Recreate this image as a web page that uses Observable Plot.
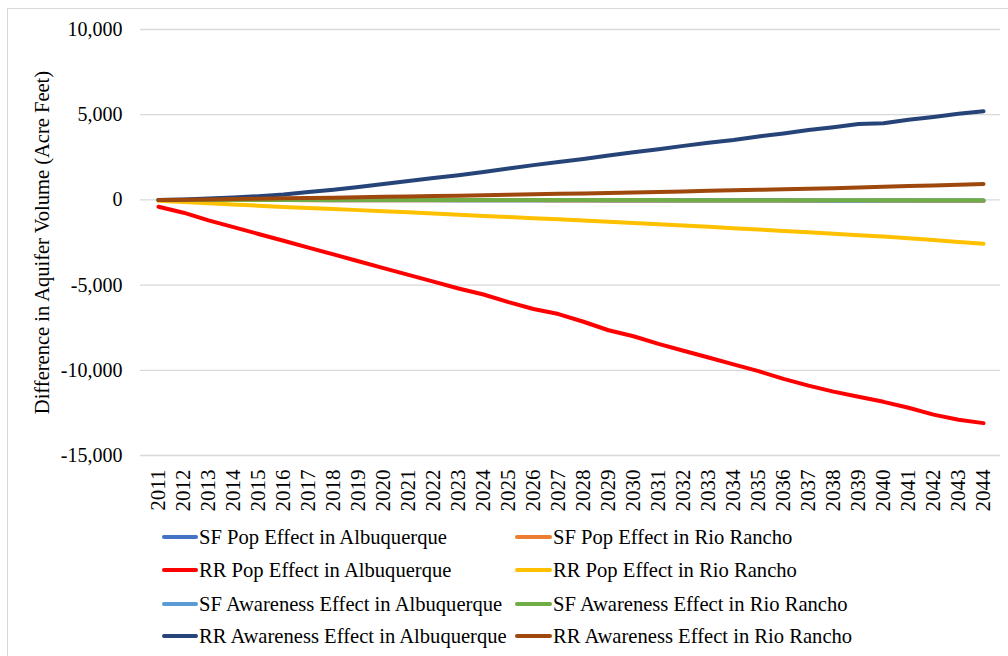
<!DOCTYPE html>
<html><head><meta charset="utf-8">
<script src="https://cdn.jsdelivr.net/npm/d3@7"></script>
<script src="https://cdn.jsdelivr.net/npm/@observablehq/plot@0.6"></script>
<style>
body{margin:0;background:#fff;}
#wrap{position:relative;width:1008px;height:656px;overflow:hidden;font-family:"Liberation Serif","Times New Roman",serif;background:#fff;}
#frame{position:absolute;left:7px;top:8px;width:1100px;height:700px;border:1px solid #d9d9d9;box-sizing:border-box;pointer-events:none;}
.leg{position:absolute;height:30px;display:flex;align-items:center;white-space:nowrap;}
.sw{display:inline-block;height:4.5px;border-radius:2px;margin-right:1px;}
.lt{display:inline-block;font-size:20.6px;color:#000;}
</style>
</head><body>
<div id="wrap"><div id="frame"></div></div>
<script>
const years = ["2011","2012","2013","2014","2015","2016","2017","2018","2019","2020","2021","2022","2023","2024","2025","2026","2027","2028","2029","2030","2031","2032","2033","2034","2035","2036","2037","2038","2039","2040","2041","2042","2043","2044"];
const seriesNames = ["SF Pop Effect in Albuquerque","SF Pop Effect in Rio Rancho","RR Pop Effect in Albuquerque","RR Pop Effect in Rio Rancho","SF Awareness Effect in Albuquerque","SF Awareness Effect in Rio Rancho","RR Awareness Effect in Albuquerque","RR Awareness Effect in Rio Rancho"];
const seriesColors = ["#4472C4","#ED7D31","#FF0000","#FFC000","#5B9BD5","#70AD47","#264478","#9E480E"];
const yTicks = [-15000,-10000,-5000,0,5000,10000];
const yTitle = "Difference in Aquifer Volume (Acre Feet)";

const sfPopAlb = [0,0,-5,-5,-10,-10,-10,-15,-15,-15,-20,-20,-20,-20,-25,-25,-25,-25,-30,-30,-30,-30,-30,-35,-35,-35,-35,-35,-40,-40,-40,-40,-40,-45];
const sfPopRR = [0,-5,-5,-10,-10,-10,-15,-15,-15,-20,-20,-20,-25,-25,-25,-25,-30,-30,-30,-30,-35,-35,-35,-40,-40,-40,-45,-45,-50,-50,-55,-60,-60,-65];
const rrPopAlb = [-400,-750,-1200,-1600,-2000,-2400,-2800,-3200,-3600,-4000,-4400,-4800,-5200,-5550,-6000,-6400,-6700,-7150,-7650,-8000,-8450,-8850,-9250,-9650,-10050,-10500,-10900,-11250,-11550,-11850,-12200,-12600,-12900,-13100];
const rrPopRR = [-50,-130,-200,-270,-340,-410,-480,-540,-600,-670,-730,-800,-870,-940,-1000,-1070,-1140,-1210,-1280,-1350,-1430,-1500,-1580,-1660,-1740,-1820,-1900,-1980,-2070,-2150,-2250,-2350,-2470,-2580];
const sfAwAlb = [0,0,0,-5,-5,-5,-5,-10,-10,-10,-10,-10,-15,-15,-15,-15,-15,-20,-20,-20,-20,-20,-25,-25,-25,-25,-30,-45,-50,-40,-30,-30,-35,-35];
const sfAwRR = [0,0,0,0,0,0,-5,-5,-5,-5,-5,-5,-5,-10,-10,-10,-10,-10,-10,-10,-10,-15,-15,-15,-15,-15,-15,-15,-20,-20,-20,-20,-20,-20];
const rrAwAlb = [0,30,80,140,220,320,460,600,760,930,1110,1280,1450,1640,1840,2040,2230,2400,2600,2790,2970,3170,3360,3520,3720,3900,4100,4260,4450,4500,4700,4870,5050,5200];
const rrAwRR = [0,10,30,50,70,90,110,130,160,180,200,230,250,280,300,330,360,380,410,440,470,500,530,560,590,620,660,690,730,770,810,850,890,940];

const allValues = [sfPopAlb,sfPopRR,rrPopAlb,rrPopRR,sfAwAlb,sfAwRR,rrAwAlb,rrAwRR];
const data = seriesNames.flatMap((s,i)=>allValues[i].map((v,j)=>({series:s, year:years[j], value:v})));

const chart = Plot.plot({
  width:1008, height:656,
  marginLeft:140, marginRight:8, marginTop:29, marginBottom:201,
  style:{fontFamily:'"Liberation Serif","Times New Roman",serif', fontSize:"20px", color:"#000", background:"transparent"},
  x:{type:"point", domain:years, padding:0.5, label:null},
  y:{domain:[-15000,10000], label:null},
  color:{domain:seriesNames, range:seriesColors},
  marks:[
    Plot.ruleY(yTicks,{stroke:"#d9d9d9", strokeWidth:1.3}),
    Plot.axisY(yTicks,{tickSize:0, tickPadding:18, tickFormat:d=>d.toLocaleString("en-US"), label:null, fontSize:20}),
    Plot.axisX({tickSize:0, tickRotate:-90, tickPadding:14, label:null, fontSize:21}),
    Plot.line(data,{x:"year", y:"value", z:"series", stroke:"series", strokeWidth:4, strokeLinejoin:"round", strokeLinecap:"round"}),
    Plot.text([yTitle],{frameAnchor:"left", textAnchor:"middle", rotate:-90, dx:-98, fontSize:20.5, fill:"#000"})
  ]
});
const wrap = document.getElementById("wrap");
chart.style.position = "absolute";
chart.style.left = "0px";
chart.style.top = "0px";
wrap.appendChild(chart);

const rowY = [537,570,604,636];
const colX = [162,515];
const swW = [36,37];
seriesNames.forEach((s,i)=>{
  const c = i%2, r = Math.floor(i/2);
  const d = document.createElement("div");
  d.className = "leg";
  d.style.left = colX[c]+"px";
  d.style.top = (rowY[r]-15)+"px";
  const sw = document.createElement("span");
  sw.className = "sw";
  sw.style.width = swW[c]+"px";
  sw.style.background = seriesColors[i];
  const t = document.createElement("span");
  t.className = "lt";
  t.textContent = s;
  d.appendChild(sw); d.appendChild(t);
  wrap.appendChild(d);
});
</script>
</body></html>
